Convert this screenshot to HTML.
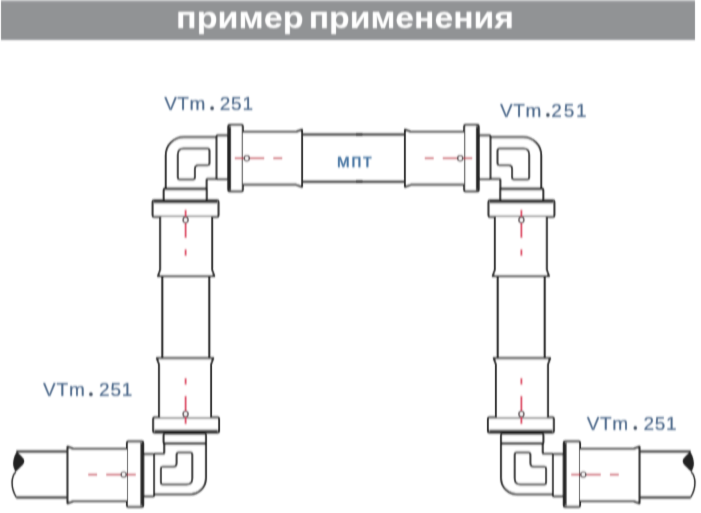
<!DOCTYPE html>
<html><head><meta charset="utf-8">
<style>
html,body{margin:0;padding:0;background:#fff;width:701px;height:513px;overflow:hidden}
svg{display:block}
.t{font-family:"Liberation Sans",sans-serif}
</style></head>
<body>
<svg width="701" height="513" viewBox="0 0 701 513">
<defs>
<filter id="bl0" x="-5%" y="-5%" width="110%" height="110%"><feConvolveMatrix order="5" kernelMatrix="0.0000 0.0080 0.0640 0.0080 0.0000 0.0000 0.0220 0.1760 0.0220 0.0000 0.0000 0.0400 0.3200 0.0400 0.0000 0.0000 0.0220 0.1760 0.0220 0.0000 0.0000 0.0080 0.0640 0.0080 0.0000" edgeMode="duplicate"/></filter>
<g id="tl" stroke-linejoin="round">
<path d="M216.5,137.3 H183.8 A18,18 0 0 0 165.8,155.3 V188.7 H206.6 V179.5 Q206.6,178.7 207.4,178.7 H216.5" fill="#fff" stroke="#262626" stroke-width="2.0"/>
<path d="M183.8,148.4 H207.5 Q209.5,148.4 209.5,150.4 V163.3 Q209.5,165.3 207.5,165.3 H198.4 Q194.9,165.3 194.9,168.8 V177.4 Q194.9,179.4 192.9,179.4 H179.8 Q177.8,179.4 177.8,177.4 V154.4 Q177.8,148.4 183.8,148.4 Z" fill="none" stroke="#262626" stroke-width="2.0"/>
<rect x="216.5" y="135.5" width="11.8" height="43.5" rx="1" fill="#fff" stroke="#262626" stroke-width="2.0"/>
<rect x="228.3" y="125.1" width="14.5" height="66.2" rx="1.3" fill="#fff" stroke="#262626" stroke-width="2.0"/>
<rect x="228.3" y="126.6" width="2.8" height="63.2" fill="#262626"/>
<path d="M242.8,132 H296 L302,129.8 V186.8 L296,184.6 H242.8" fill="#fff" stroke="#262626" stroke-width="2.0"/>
<rect x="163.7" y="188.7" width="43" height="11.7" rx="1" fill="#fff" stroke="#262626" stroke-width="2.0"/>
<line x1="164.2" y1="189" x2="206.2" y2="189" stroke="#262626" stroke-width="2.4"/>
<rect x="152.6" y="200.5" width="65.9" height="16.3" rx="1.3" fill="#fff" stroke="#262626" stroke-width="2.0"/>
<rect x="154.1" y="200.5" width="62.9" height="2.8" fill="#262626"/>
<path d="M160.2,216.8 V270 L158,276 H214.3 L212.1,270 V216.8" fill="#fff" stroke="#262626" stroke-width="2.0"/>
<g stroke="#c4283f" stroke-width="1.6" fill="none"><line x1="234.8" y1="158.3" x2="264.2" y2="158.3"/><line x1="273.4" y1="158.3" x2="282.2" y2="158.3"/></g><g stroke="#dc3a5a" stroke-width="1.8" fill="none"><line x1="185.6" y1="209.8" x2="185.6" y2="238"/><line x1="185.6" y1="249.3" x2="185.6" y2="255.8"/></g>
<circle cx="246.8" cy="158.3" r="2.6" fill="#fff" stroke="#3a2a30" stroke-width="1.2"/>
<circle cx="185.6" cy="220" r="2.6" fill="#fff" stroke="#3a2a30" stroke-width="1.2"/>
</g>
<g id="bl" stroke-linejoin="round">
<path d="M217.1,139 H181.3 A16,16 0 0 0 165.3,155 V189.6 H206.9 V180.1 Q206.9,179.3 207.7,179.3 H217.1" fill="#fff" stroke="#262626" stroke-width="2.0"/>
<path d="M184.9,148.6 H208.3 Q210.3,148.6 210.3,150.6 V164.4 Q210.3,166.4 208.3,166.4 H198.1 Q194.6,166.4 194.6,169.9 V178.7 Q194.6,180.7 192.6,180.7 H180.9 Q178.9,180.7 178.9,178.7 V154.6 Q178.9,148.6 184.9,148.6 Z" fill="none" stroke="#262626" stroke-width="2.0"/>
<rect x="217.1" y="136.9" width="10.9" height="42" rx="1" fill="#fff" stroke="#262626" stroke-width="2.0"/>
<rect x="228" y="126.4" width="16.2" height="65.2" rx="1.3" fill="#fff" stroke="#262626" stroke-width="2.0"/>
<rect x="228" y="127.9" width="2.8" height="62.2" fill="#262626"/>
<path d="M244.2,132.2 H297.7 L303.7,130 V186.4 L297.7,184.2 H244.2" fill="#fff" stroke="#262626" stroke-width="2.0"/>
<rect x="165.3" y="189.6" width="42.3" height="9.5" rx="1" fill="#fff" stroke="#262626" stroke-width="2.0"/>
<line x1="165.8" y1="189.9" x2="207.1" y2="189.9" stroke="#262626" stroke-width="2.4"/>
<rect x="152.2" y="200.7" width="65.8" height="15" rx="1.3" fill="#fff" stroke="#262626" stroke-width="2.0"/>
<rect x="153.7" y="200.7" width="62.8" height="2.8" fill="#262626"/>
<path d="M160.2,215.7 V268.9 L158,274.9 H214.3 L212.1,268.9 V215.7" fill="#fff" stroke="#262626" stroke-width="2.0"/>
<g stroke="#c4283f" stroke-width="1.6" fill="none"><line x1="235.5" y1="158.6" x2="264.9" y2="158.6"/><line x1="274.1" y1="158.6" x2="282.9" y2="158.6"/></g><g stroke="#dc3a5a" stroke-width="1.8" fill="none"><line x1="185.6" y1="209.1" x2="185.6" y2="237.3"/><line x1="185.6" y1="248.6" x2="185.6" y2="255.1"/></g>
<circle cx="247.5" cy="158.6" r="2.6" fill="#fff" stroke="#3a2a30" stroke-width="1.2"/>
<circle cx="185.6" cy="219.3" r="2.6" fill="#fff" stroke="#3a2a30" stroke-width="1.2"/>
</g>
<g id="brk">
<path d="M17,451.6 C19.5,455 24.5,458 24.3,461.5 C24,465 19,468 15.7,472 C13.5,468 12.8,465 13.2,462 C13.6,458 15,454.5 17,451.6 Z" fill="#222"/>
<path d="M15.7,472 C11,477 10.5,488 16.4,497.4" fill="none" stroke="#262626" stroke-width="1.5"/>
</g>
</defs>

<g filter="url(#bl0)">
<rect x="1" y="0" width="694" height="40" fill="#919395"/>
<rect x="1" y="0" width="694" height="1.5" fill="#b4b6b8"/>
<g class="t" font-size="29" font-weight="bold" fill="#fff"><text x="176.1" y="28" textLength="127.5" lengthAdjust="spacingAndGlyphs">пример</text><text x="308.7" y="28" textLength="205.3" lengthAdjust="spacingAndGlyphs">применения</text></g>

<g stroke="#262626" stroke-width="2.0" fill="none">
<line x1="302" y1="134.4" x2="405" y2="134.4"/>
<line x1="302" y1="181.8" x2="405" y2="181.8"/>
<line x1="162.3" y1="275" x2="162.3" y2="359"/>
<line x1="209.3" y1="275" x2="209.3" y2="359"/>
<line x1="544.7" y1="275" x2="544.7" y2="359"/>
<line x1="497.7" y1="275" x2="497.7" y2="359"/>
<line x1="16.4" y1="451.6" x2="69" y2="451.6"/>
<line x1="16.4" y1="497.4" x2="69" y2="497.4"/>
<line x1="638" y1="451.6" x2="690.6" y2="451.6"/>
<line x1="638" y1="497.4" x2="690.6" y2="497.4"/>
</g>
<g stroke="#262626" stroke-width="2.3">
<line x1="356" y1="134.5" x2="362.5" y2="134.5"/>
<line x1="356" y1="181.6" x2="362.5" y2="181.6"/>
</g>

<use href="#tl"/>
<use href="#tl" transform="translate(707,0) scale(-1,1)"/>
<use href="#bl" transform="rotate(180 185.6 316.6)"/>
<use href="#bl" transform="translate(707,0) scale(-1,1) rotate(180 185.6 316.6)"/>
<use href="#brk"/>
<use href="#brk" transform="translate(707,0) scale(-1,1)"/>

<g class="t" font-size="19" fill="#4a6688" stroke="#4a6688" stroke-width="0.2">
<text x="164.3" y="110" letter-spacing="0.4">VTm</text><circle cx="212.1" cy="108.3" r="1.75" fill="#34404e"/><text x="219.7" y="110" letter-spacing="0.8">251</text>
<text x="500.1" y="116.7" letter-spacing="0.6">VTm</text><circle cx="547.9" cy="115" r="1.75" fill="#34404e"/><text x="551.3" y="116.7" letter-spacing="1.8">251</text>
<text x="43.1" y="396" letter-spacing="0.8">VTm</text><circle cx="90.9" cy="394.3" r="1.75" fill="#34404e"/><text x="99.1" y="396" letter-spacing="0.8">251</text>
<text x="586.8" y="429.7" letter-spacing="0.6">VTm</text><circle cx="635.3" cy="428" r="1.75" fill="#34404e"/><text x="643.4" y="429.7" letter-spacing="0.8">251</text>
</g>
<text class="t" x="336.8" y="166.6" font-size="19" letter-spacing="1.4" fill="#41709f" stroke="#41709f" stroke-width="0.3">мпт</text>
</g>
</svg>
</body></html>
